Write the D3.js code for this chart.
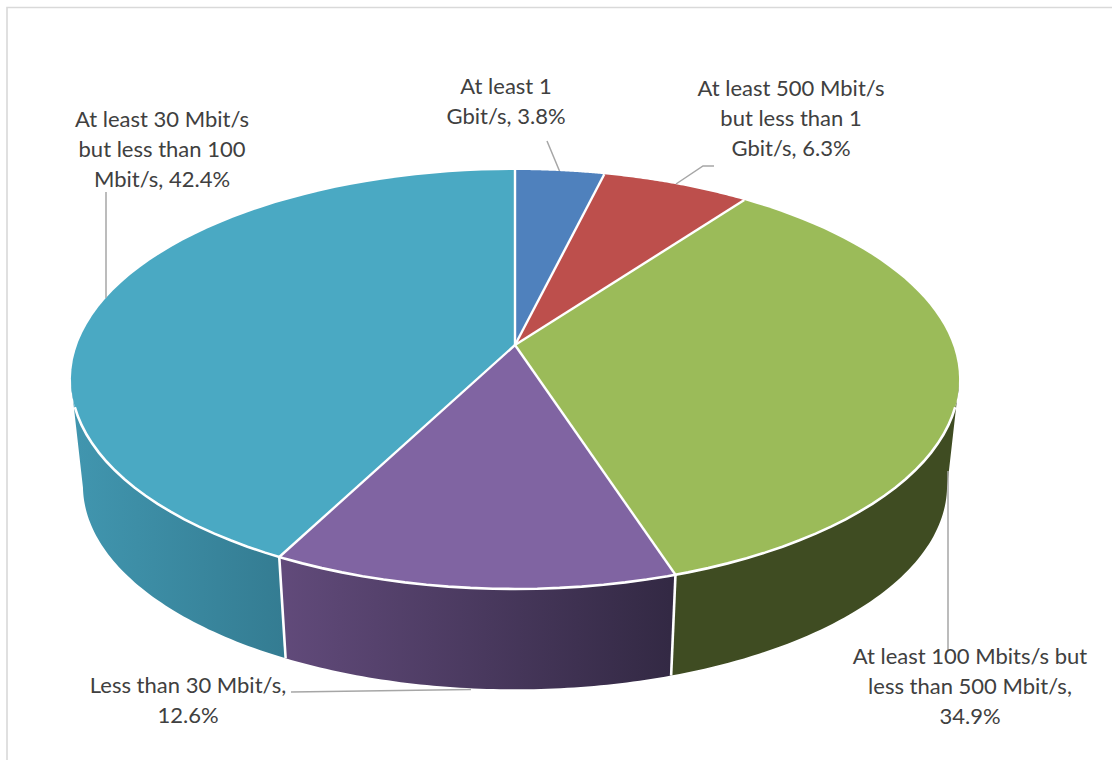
<!DOCTYPE html>
<html>
<head>
<meta charset="utf-8">
<script src="https://cdn.jsdelivr.net/npm/d3@7"></script>
<style>
html,body{margin:0;padding:0;background:#fff;overflow:hidden}
svg{display:block}
text{font-family:Lato,"Noto Sans",sans-serif;font-size:22px;fill:#404040;text-anchor:middle}
</style>
</head>
<body>
<svg id="chart" width="1112" height="760"></svg>
<script>
// ---- data ----
const categories = ["At least 1 Gbit/s","At least 500 Mbit/s but less than 1 Gbit/s","At least 100 Mbits/s but less than 500 Mbit/s","Less than 30 Mbit/s","At least 30 Mbit/s but less than 100 Mbit/s"];
const shares = [3.8, 6.3, 34.9, 12.6, 42.4];
const topColors = ["#4F81BD","#BD4F4C","#9BBB59","#8064A2","#4AA9C3"];
const wallStart = ["#3A6090","#8E3A38","#3F4C22","#614A7A","#4196AF"];
const wallEnd   = ["#3A6090","#8E3A38","#3F4C22","#332944","#347C92"];
const labelLines = [
  ["At least 1","Gbit/s, 3.8%"],
  ["At least 500 Mbit/s","but less than 1","Gbit/s, 6.3%"],
  ["At least 100 Mbits/s but","less than 500 Mbit/s,","34.9%"],
  ["Less than 30 Mbit/s,","12.6%"],
  ["At least 30 Mbit/s","but less than 100","Mbit/s, 42.4%"]
];
const labelAnchors = [[506,94],[791,96],[970,664],[188,693],[162,127]];
const leaders = [
  [[547,141],[559.5,171]],
  [[714,166],[703,166],[676,184]],
  [[948,471],[948,650]],
  [[291,692],[471,689.5]],
  [[106,192],[106,298]]
];

// ---- perspective projection of the pie disc ----
const W = 1112, H = 760;
const cx = 515, cy = 345, a = 438, b = 203.8, k = 0.1646;
const depthScale = 0.973, bottomCy = 452;
const project = (t) => {
  const w = 1 + k * Math.cos(t);
  return [a * Math.sin(t) / w, -b * Math.cos(t) / w];
};
const topPt = t => { const p = project(t); return [cx + p[0], cy + p[1]]; };
const botPt = t => { const p = project(t); return [cx + depthScale * p[0], bottomCy + depthScale * p[1]]; };
const sampleAngles = (t0, t1) => d3.range(0, 61).map(i => t0 + (t1 - t0) * i / 60);

const svg = d3.select("#chart");
const line = d3.line();

// chart frame
svg.append("path").attr("d", line([[7,H],[7,7.5],[W,7.5]]))
  .attr("fill","none").attr("stroke","#D9D9D9").attr("stroke-width",1.6);

const arcs = d3.pie().sort(null).value(d => d)(shares);
const visibleFrom = 100 * Math.PI / 180, visibleTo = 260 * Math.PI / 180;

const defs = svg.append("defs");
arcs.forEach((d,i) => {
  const g = defs.append("linearGradient").attr("id","wall"+i)
    .attr("gradientUnits","userSpaceOnUse")
    .attr("x1", i===4 ? 72 : 283).attr("x2", i===4 ? 283 : 670)
    .attr("y1",0).attr("y2",0);
  g.append("stop").attr("offset",0).attr("stop-color",wallStart[i]);
  g.append("stop").attr("offset",1).attr("stop-color",wallEnd[i]);
});

// side walls (front-facing parts only)
arcs.forEach((d,i) => {
  const t0 = Math.max(d.startAngle, visibleFrom), t1 = Math.min(d.endAngle, visibleTo);
  if (t1 <= t0) return;
  const ang = sampleAngles(t0,t1);
  const poly = ang.map(topPt).concat(ang.slice().reverse().map(botPt));
  svg.append("path").attr("d", line(poly) + "Z").attr("fill", "url(#wall"+i+")");
});
// white seams between wall faces
arcs.forEach((d) => {
  const t = d.endAngle;
  if (t > visibleFrom && t < visibleTo) {
    svg.append("path").attr("d", line([topPt(t), botPt(t)]))
      .attr("stroke","#fff").attr("stroke-width",2.6).attr("fill","none");
  }
});

// top surface
arcs.forEach((d,i) => {
  const poly = [[cx,cy]].concat(sampleAngles(d.startAngle,d.endAngle).map(topPt));
  svg.append("path").attr("d", line(poly) + "Z")
    .attr("fill", topColors[i]);
});
// white radii between slices
arcs.forEach((d) => {
  svg.append("path").attr("d", line([[cx,cy], topPt(d.startAngle)]))
    .attr("stroke","#fff").attr("stroke-width",2.4).attr("fill","none");
});
// white rim on the front edge
svg.append("path").attr("d", line(sampleAngles(visibleFrom + 0.12, visibleTo - 0.12).map(topPt)))
  .attr("stroke","#fff").attr("stroke-width",2.6).attr("fill","none");

// leader lines
leaders.forEach(l => svg.append("path").attr("d", line(l))
  .attr("fill","none").attr("stroke","#A6A6A6").attr("stroke-width",1.5));

// labels
labelLines.forEach((lines,i) => {
  const t = svg.append("text").attr("aria-label", categories[i]);
  lines.forEach((s,j) => t.append("tspan")
    .attr("x", labelAnchors[i][0]).attr("y", labelAnchors[i][1] + j * 30).text(s));
});
</script>
</body>
</html>
